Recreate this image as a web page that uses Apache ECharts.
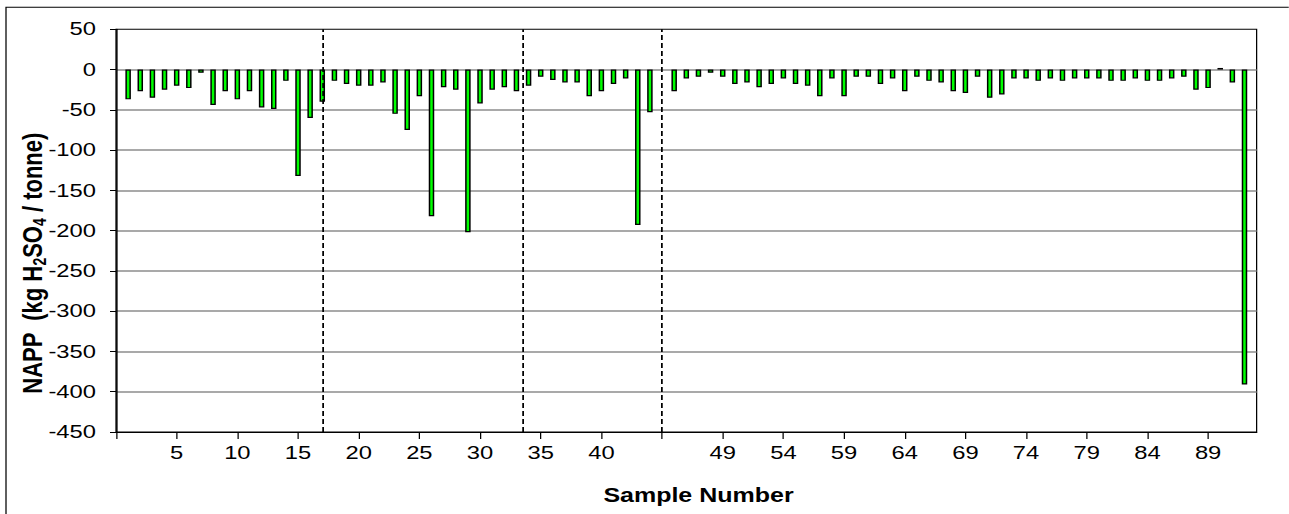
<!DOCTYPE html>
<html>
<head>
<meta charset="utf-8">
<script src="https://cdn.jsdelivr.net/npm/echarts@6/dist/echarts.min.js"></script>
<style>
  html, body { margin: 0; padding: 0; background: #fff; overflow: hidden; width: 1289px; height: 514px; }
  /* the chart is laid out in a narrower box and widened, so the lettering is stretched too */
  #chart { width: 1031px; height: 514px; transform: scale(1.25, 1); transform-origin: 0 0; }
</style>
</head>
<body>
<div id="chart"></div>
<script>
// Sample identifiers along the x axis
const sampleNumbers = [
  1, 2, 3, 4, 5, 6, 7, 8, 9, 10, 11, 12, 13, 14, 15, 16, 17, 18, 19, 20,
  21, 22, 23, 24, 25, 26, 27, 28, 29, 30, 31, 32, 33, 34, 35, 36, 37, 38, 39, 40,
  41, 42, 43, 44, 45, 46, 47, 48, 49, 50, 51, 52, 53, 54, 55, 56, 57, 58, 59, 60,
  61, 62, 63, 64, 65, 66, 67, 68, 69, 70, 71, 72, 73, 74, 75, 76, 77, 78, 79, 80,
  81, 82, 83, 84, 85, 86, 87, 88, 89, 90, 91, 92
];

// Net acid producing potential, kg H2SO4 / tonne
const napp = [
  -37, -27, -35, -25, -20, -23, -4, -44, -27, -37, -27, -47, -49, -14, -132, -60, -40, -14, -18, -20,
  -20, -16, -55, -75, -33, -182, -22, -25, -202, -42, -25, -22, -27, -20, -9, -13, -16, -16, -33, -27,
  -18, -11, -193, -53, -27, -11, -9, -4, -9, -18, -16, -22, -18, -11, -18, -20, -33, -11, -33, -9,
  -9, -18, -11, -27, -9, -14, -16, -27, -29, -9, -35, -31, -11, -11, -14, -11, -14, -11, -11, -11,
  -14, -14, -11, -14, -14, -11, -9, -25, -23, 2, -16, -391
];

// One empty slot is left on the axis after this sample
const gapAfterSample = 44;

// Axis slots of the dashed group dividers
const dividerSlots = [17, 33.5, 45];

// Labels shown at every fifth slot, starting from slot 0
const tickLabels = ['', '5', '10', '15', '20', '25', '30', '35', '40', '', '49', '54', '59', '64', '69', '74', '79', '84', '89'];

// Y axis range and step
const yMin = -450, yMax = 50, yStep = 50;

const slotOf = s => s + (s > gapAfterSample ? 1 : 0);
const lastSlot = slotOf(sampleNumbers[sampleNumbers.length - 1]) + 1;
const tickSlots = tickLabels.map((_, i) => i * 5);

const FONT = '"Liberation Sans", Arial, Helvetica, sans-serif';

const chart = echarts.init(document.getElementById('chart'), null, { renderer: 'svg' });

chart.setOption({
  animation: false,
  backgroundColor: '#fff',
  grid: {
    left: 92.8, right: 25.7, top: 29.3, bottom: 82,
    show: true, borderColor: '#000', borderWidth: 1,
    containLabel: false, outerBoundsMode: 'none'
  },
  xAxis: {
    type: 'value',
    min: 0, max: lastSlot,
    axisLine: { onZero: false, lineStyle: { color: '#000', width: 1.2 } },
    axisTick: { show: true, inside: false, length: 7, lineStyle: { color: '#000', width: 1 }, customValues: tickSlots },
    axisLabel: {
      customValues: tickSlots,
      margin: 11,
      color: '#000', fontSize: 19, fontFamily: FONT,
      formatter: v => { const i = Math.round(v / 5); return (i * 5 === v && tickLabels[i] !== undefined) ? tickLabels[i] : ''; }
    },
    splitLine: { show: false }
  },
  yAxis: {
    type: 'value',
    min: yMin, max: yMax, interval: yStep,
    axisLine: { show: true, lineStyle: { color: '#000', width: 1.2 } },
    axisTick: { show: true, inside: false, length: 4.8, lineStyle: { color: '#000', width: 1 } },
    axisLabel: { margin: 16, color: '#000', fontSize: 19, fontFamily: FONT },
    splitLine: { show: true, showMinLine: false, showMaxLine: false, lineStyle: { color: '#8c8c8c', width: 1.5 } }
  },
  series: [{
    type: 'bar',
    data: sampleNumbers.map((s, i) => [slotOf(s), napp[i]]),
    barWidth: 4.4,
    itemStyle: { color: '#00ff00', borderColor: '#000', borderWidth: 1.2 },
    markLine: {
      silent: true,
      symbol: ['none', 'none'],
      label: { show: false },
      lineStyle: { color: '#000', type: [5, 3], width: 1.4 },
      data: dividerSlots.map(x => ({ xAxis: x }))
    }
  }],
  graphic: [
    {
      type: 'rect', silent: true,
      shape: { x: 4.8, y: 7.3, width: 1200, height: 700 },
      style: { fill: 'none', stroke: '#000', lineWidth: 1 }
    },
    {
      type: 'text', silent: true,
      x: 25.3, y: 263.3, rotation: Math.PI / 2,
      style: {
        text: '{m|NAPP  (kg H}{s|2}{m|SO}{s|4}{m| / tonne)}',
        align: 'center', verticalAlign: 'middle', fill: '#000',
        rich: {
          m: { fontSize: 22, fontWeight: 'bold', fontFamily: FONT, lineHeight: 28, verticalAlign: 'middle', fill: '#000' },
          s: { fontSize: 14, fontWeight: 'bold', fontFamily: FONT, lineHeight: 14, verticalAlign: 'bottom', fill: '#000' }
        }
      }
    },
    {
      type: 'text', silent: true,
      x: 558.8, y: 495,
      style: {
        text: 'Sample Number',
        align: 'center', verticalAlign: 'middle', fill: '#000',
        fontSize: 20, fontWeight: 'bold', fontFamily: FONT
      }
    }
  ]
});
</script>
</body>
</html>
